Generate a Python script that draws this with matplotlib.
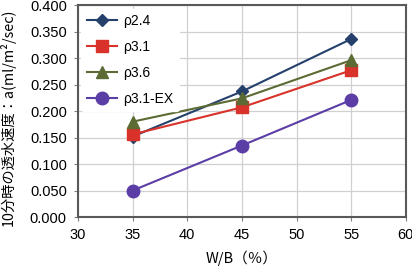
import matplotlib
matplotlib.use("Agg")
import matplotlib.pyplot as plt

plt.rcParams['font.family'] = ['Liberation Sans', 'Noto Sans CJK JP', 'DejaVu Sans']

wb = [35, 45, 55]
series_names = ["ρ2.4", "ρ3.1", "ρ3.6", "ρ3.1-EX"]
rho24 = [0.152, 0.237, 0.336]
rho31 = [0.156, 0.207, 0.277]
rho36 = [0.180, 0.224, 0.296]
rho31ex = [0.050, 0.135, 0.221]
colors = ["#24406B", "#D8322A", "#5C6B33", "#5B3DA6"]
markers = ["D", "s", "^", "o"]
msizes = [6, 8, 8, 9]

fig = plt.figure(figsize=(4.12, 2.68), dpi=100)
ax = fig.add_axes([0.189, 0.19, 0.796, 0.791])

for name, vals, c, m, ms in zip(series_names, [rho24, rho31, rho36, rho31ex], colors, markers, msizes):
    ax.plot(wb, vals, color=c, marker=m, markersize=ms, linewidth=1.5, label=name)

ax.set_xlim(30, 60)
ax.set_ylim(0, 0.4)
ax.set_xticks([30, 35, 40, 45, 50, 55, 60])
ax.set_yticks([0.0, 0.05, 0.1, 0.15, 0.2, 0.25, 0.3, 0.35, 0.4])
ax.set_yticklabels([f"{v:.3f}" for v in ax.get_yticks()])
ax.grid(True, color="#D0D0D0", linewidth=0.9)
ax.set_axisbelow(True)
for s in ax.spines.values():
    s.set_color("#595959")
    s.set_linewidth(1.5)
ax.tick_params(axis='both', labelsize=10.5, color="#808080", length=3, width=0.8, pad=5)
ax.set_xlabel("W/B（％）", fontsize=10.5, family=['Noto Sans CJK JP', 'DejaVu Sans'], labelpad=6)
ax.set_ylabel("10分時の透水速度：a(ml/m²/sec)", fontsize=10.3,
              family=['Noto Sans CJK JP', 'DejaVu Sans'])
ax.yaxis.set_label_coords(-0.188, 0.47)
leg = ax.legend(loc="upper left", frameon=True, fontsize=10, handlelength=2.2,
                handletextpad=0.4, labelspacing=0.85, borderaxespad=0.25,
                facecolor="white", edgecolor="white", framealpha=1)
fig.savefig("out.png", dpi=100)
